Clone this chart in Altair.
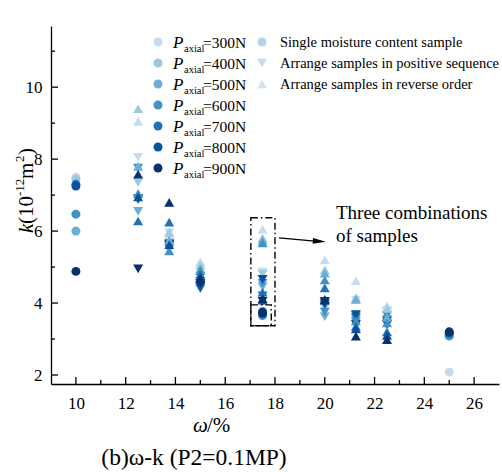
import altair as alt
import pandas as pd

FONT = "Liberation Serif"

# ---------------- data ----------------
pressures = [300, 400, 500, 600, 700, 800, 900]
blues = ["#c6dbef", "#9ecae1", "#6baed6", "#4292c6", "#2171b5", "#08519c", "#08306b"]

single_omega = [10, 17.5, 25]
single_300 = [7.5, None, 2.08]
single_400 = [7.45, None, 3.08]
single_500 = [6.0, None, 3.08]
single_600 = [6.47, 3.65, 3.1]
single_700 = [7.3, 3.7, 3.15]
single_800 = [7.25, 3.76, 3.18]
single_900 = [4.88, 3.72, 3.2]

tri_omega = [12.5, 13.75, 15, 17.5, 20, 21.25, 22.5]
# arrange samples in reverse order (triangle up)
rev_300 = [9.05, 5.9, 5.15, 6.05, 5.2, 4.62, 3.92]
rev_400 = [9.4, 5.97, 5.05, 5.8, 4.92, 4.15, 3.85]
rev_500 = [7.8, 5.75, 4.95, 5.75, 4.83, 4.1, 3.6]
rev_600 = [7.05, 5.45, 4.9, 5.67, 4.64, 3.5, 3.45]
rev_700 = [6.28, 6.25, 4.8, 4.3, 4.42, 3.35, 3.2]
rev_800 = [6.95, 5.62, 4.72, 4.08, 4.1, 3.28, 3.1]
rev_900 = [7.58, 6.8, 4.68, 4.12, 4.08, 3.08, 2.98]
# arrange samples in positive sequence (triangle down)
pos_300 = [8.05, 5.95, 4.9, 4.86, 3.85, 4.08, 3.8]
pos_400 = [7.35, 5.75, 4.75, 4.8, 3.9, 3.65, 3.75]
pos_500 = [6.55, 5.55, 4.6, 4.45, 3.62, 3.55, 3.55]
pos_600 = [7.75, 5.5, 4.5, 4.55, 3.75, 3.48, 3.65]
pos_700 = [6.9, 5.65, 4.4, 4.2, 3.95, 3.6, 3.4]
pos_800 = [6.88, 5.6, 4.45, 4.66, 4.0, 3.68, 3.5]
pos_900 = [4.95, 5.62, 4.55, 4.05, 4.05, 3.4, 3.42]

x_major = [10, 12, 14, 16, 18, 20, 22, 24, 26]
x_minor = [11, 13, 15, 17, 19, 21, 23, 25]
y_major = [2, 4, 6, 8, 10]
y_minor = [3, 5, 7, 9, 11]

# annotation boxes (data units)
box_x = [17.03, 17.03]
box_x2 = [18.0, 17.85]
box_y = [6.37, 3.95]
box_y2 = [3.37, 3.37]

# ---------------- build tables ----------------
singles = [single_300, single_400, single_500, single_600, single_700, single_800, single_900]
revs = [rev_300, rev_400, rev_500, rev_600, rev_700, rev_800, rev_900]
poss = [pos_300, pos_400, pos_500, pos_600, pos_700, pos_800, pos_900]


def table(xs, series):
    rows = []
    for p, vals in zip(pressures, series):
        for x, v in zip(xs, vals):
            if v is not None:
                rows.append({"omega": x, "k": v, "P": str(p)})
    return pd.DataFrame(rows)


df_single = table(single_omega, singles)
df_rev = table(tri_omega, revs)
df_pos = table(tri_omega, poss)

XS = alt.Scale(domain=[9, 27], nice=False, zero=False)
YS = alt.Scale(domain=[1.75, 11.7], nice=False, zero=False)
CS = alt.Scale(domain=[str(p) for p in pressures], range=blues)

x_enc = alt.X("omega:Q", scale=XS,
              axis=alt.Axis(values=x_major, title=None, ticks=False, grid=False,
                            labelFont=FONT, labelFontSize=17, labelColor="black",
                            labelPadding=11, domainColor="black", domainWidth=1.3,
                            format="d"))
y_enc = alt.Y("k:Q", scale=YS,
              axis=alt.Axis(values=y_major, title=None, ticks=False, grid=False,
                            labelFont=FONT, labelFontSize=17, labelColor="black",
                            labelPadding=9, domainColor="black", domainWidth=1.3,
                            format="d"))
c_enc = alt.Color("P:N", scale=CS, legend=None)

pos_layer = alt.Chart(df_pos).mark_point(filled=True, shape="triangle-down", size=100,
                                         opacity=1, strokeWidth=0).encode(x=x_enc, y=y_enc, color=c_enc)
rev_layer = alt.Chart(df_rev).mark_point(filled=True, shape="triangle-up", size=100,
                                         opacity=1, strokeWidth=0).encode(x="omega:Q", y="k:Q", color=c_enc)
single_layer = alt.Chart(df_single).mark_point(filled=True, shape="circle", size=80,
                                               opacity=1, strokeWidth=0).encode(x="omega:Q", y="k:Q", color=c_enc)

# inward ticks
tick_rows = []
for t in x_major:
    tick_rows.append({"x": t, "x2": t, "y": 1.75, "y2": 1.75 + 7 / 36})
for t in x_minor:
    tick_rows.append({"x": t, "x2": t, "y": 1.75, "y2": 1.75 + 4 / 36})
for t in y_major:
    tick_rows.append({"x": 9, "x2": 9 + 7 / 24.9, "y": t, "y2": t})
for t in y_minor:
    tick_rows.append({"x": 9, "x2": 9 + 4 / 24.9, "y": t, "y2": t})
ticks = alt.Chart(pd.DataFrame(tick_rows)).mark_rule(color="black", strokeWidth=1.3).encode(
    x="x:Q", x2="x2:Q", y="y:Q", y2="y2:Q")

boxes = alt.Chart(pd.DataFrame({"x": box_x, "x2": box_x2, "y": box_y, "y2": box_y2})).mark_rect(
    filled=False, stroke="black", strokeWidth=1.4, strokeDash=[7, 3, 1.5, 3]).encode(
    x="x:Q", x2="x2:Q", y="y:Q", y2="y2:Q")

arrow_line = alt.Chart(pd.DataFrame({"x": [18.16], "x2": [19.6], "y": [5.81], "y2": [5.72]})).mark_rule(
    color="black", strokeWidth=1.3).encode(x="x:Q", x2="x2:Q", y="y:Q", y2="y2:Q")
arrow_head = alt.Chart(pd.DataFrame({"x": [19.78], "y": [5.715]})).mark_point(
    shape="M-1,-0.45L1,0L-1,0.45Z", size=169, filled=True, color="black", opacity=1,
    strokeWidth=0, angle=4).encode(x="x:Q", y="y:Q")

dummy = alt.Data(values=[{"a": 1}])


def txt(s, px, py, size, italic=False, align="left", baseline="alphabetic", angle=None):
    kw = dict(text=s, align=align, baseline=baseline, font=FONT, fontSize=size, color="black")
    if italic:
        kw["fontStyle"] = "italic"
    if angle is not None:
        kw["angle"] = angle
    return alt.Chart(dummy).mark_text(**kw).encode(x=alt.value(px), y=alt.value(py))


def sym(shape, color, px, py, size):
    return alt.Chart(dummy).mark_point(shape=shape, filled=True, color=color, size=size,
                                       opacity=1, strokeWidth=0).encode(
        x=alt.value(px), y=alt.value(py))


texts = []
# legend left column
for i, (p, c) in enumerate(zip(pressures, blues)):
    cy = 42 + 21 * i
    texts.append(sym("circle", c, 158 - 51, cy - 26, 80))
    texts.append(txt("P", 173 - 51, cy + 6 - 26, 17, italic=True))
    texts.append(txt("axial", 184 - 51, cy + 10 - 26, 10.5))
    texts.append(txt(f"={p}N", 203 - 51, cy + 6 - 26, 15.5))
# legend right column
right_items = [("circle", "#b7d2ea", "Single moisture content sample", 80),
               ("triangle-down", "#c6dbef", "Arrange samples in positive sequence", 100),
               ("triangle-up", "#d2e3f3", "Arrange samples in reverse order", 100)]
for i, (shp, c, lab, sz) in enumerate(right_items):
    cy = 42 + 21 * i
    texts.append(sym(shp, c, 262 - 51, cy - 26, sz))
    texts.append(txt(lab, 280 - 51, cy + 5 - 26, 14.5))

# annotation text
texts.append(txt("Three combinations", 336 - 51, 219 - 26, 19))
texts.append(txt("of samples", 336 - 51, 242 - 26, 19))

# x axis title
texts.append(txt("ω", 193 - 51, 432 - 26, 21, italic=True))
texts.append(txt("/%", 207 - 51, 432 - 26, 21))

# y axis title (rotated)
yb = 33 - 51
ys = 24 - 51
texts.append(txt("k", yb, 233 - 26, 21, italic=True, angle=270))
texts.append(txt("(10", yb, 224 - 26, 21, angle=270))
texts.append(txt("-12", ys, 196 - 26, 13, angle=270))
texts.append(txt("m", yb, 179 - 26, 21, angle=270))
texts.append(txt("2", ys, 162 - 26, 13, angle=270))
texts.append(txt(")", yb, 155 - 26, 21, angle=270))

# caption
texts.append(txt("(b)ω-k (P2=0.1MP)", 194 - 51, 465 - 26, 23.5, align="center"))

chart = alt.layer(pos_layer, rev_layer, single_layer, ticks, boxes, arrow_line, arrow_head,
                  *texts).properties(
    width=448, height=358,
    padding={"left": 51, "top": 26, "right": 3, "bottom": 88},
    autosize="none",
    background="white",
).configure_view(stroke=None)

chart.save("out.html", embed_options={"renderer": "svg", "actions": False})
